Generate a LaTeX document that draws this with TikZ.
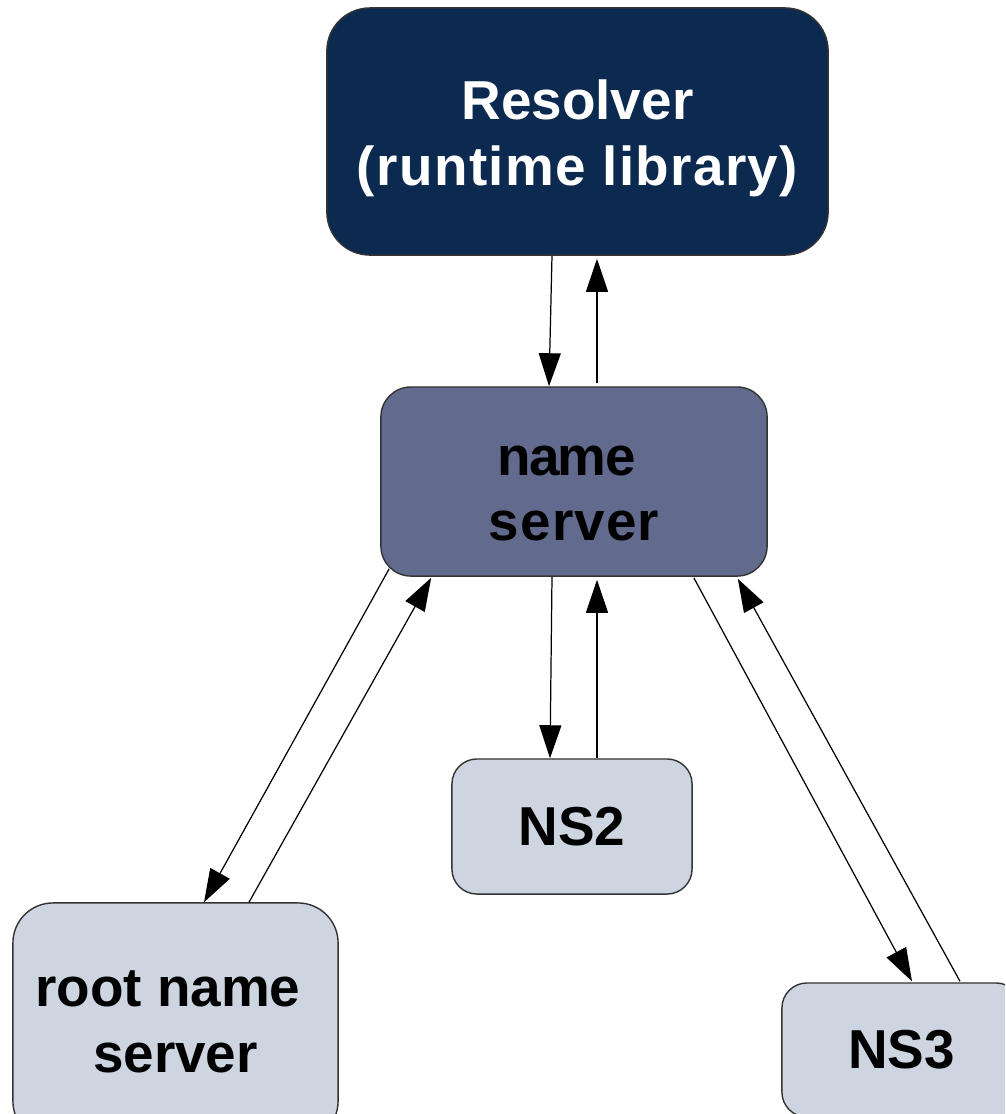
\documentclass[tikz,border=0pt]{standalone}
\usepackage{fontspec}
\setmainfont{Liberation Sans}
\usetikzlibrary{arrows.meta,calc}
\definecolor{resblue}{HTML}{0C2A50}
\definecolor{nsblue}{HTML}{626A8D}
\definecolor{light}{HTML}{CDD5E1}
\definecolor{edge}{HTML}{333333}
\newcommand{\toppad}{\rule{0pt}{15.2pt}}
\tikzset{
  box/.style={draw=edge, line width=0.4pt, inner sep=0pt, align=center,
    font=\fontsize{15.6}{18.6}\selectfont\bfseries},
  conn/.style={line width=0.35pt, -{Triangle[length=3.3mm,width=2.2mm]}}
}
\begin{document}
\begin{tikzpicture}[x=0.01cm,y=-0.01cm]
\useasboundingbox (0,0) rectangle (1005,1114);
\clip (0,0) rectangle (1005,1114);
\node[box, fill=resblue, text=white, rounded corners=4.3mm, minimum width=50.1mm, minimum height=24.7mm]
  (res) at (577.5,131.5) {\toppad Resolver\\{\addfontfeature{LetterSpace=2.5}(runtime library)}};
\node[box, fill=nsblue, rounded corners=3mm, minimum width=38.6mm, minimum height=18.9mm]
  (ns) at (574,481.5) {\toppad{\addfontfeature{LetterSpace=-3}name}\hspace*{0.28em}\\{\addfontfeature{LetterSpace=2}server}};
\node[box, fill=light, rounded corners=2.5mm, minimum width=24mm, minimum height=13.5mm]
  (ns2) at (572,826.5) {NS2};
\node[box, fill=light, rounded corners=4mm, minimum width=32.5mm, minimum height=23.8mm]
  (root) at (175.5,1022) {root name\hspace*{0.28em}\\server};
\node[box, fill=light, rounded corners=2.5mm, minimum width=23.9mm, minimum height=13.4mm]
  (ns3) at (901.5,1050) {NS3};
% Resolver <-> name server
\draw[conn] ($(res.south)+(-25.5,0)$) -- ($(ns.north)+(-25,0)$);
\draw[conn] ($(ns.north)+(23,-3)$) -- ($(res.south)+(19.5,3)$);
% name server <-> NS2
\draw[conn] ($(ns.south)+(-22,0)$) -- ($(ns2.north)+(-22,0)$);
\draw[conn] ($(ns2.north)+(25,0)$) -- ($(ns.south)+(23,3)$);
% name server <-> root
\draw[conn] ($(ns.south west)+(9,-8)$) -- ($(root.north)+(28.5,0)$);
\draw[conn] ($(root.north)+(73.5,0)$) -- ($(ns.south west)+(51,1)$);
% name server <-> NS3
\draw[conn] ($(ns.south east)+(-74,1)$) -- ($(ns3.north)+(10.5,-1)$);
\draw[conn] ($(ns3.north)+(58.5,-1)$) -- ($(ns.south east)+(-30,2)$);
\end{tikzpicture}
\end{document}
